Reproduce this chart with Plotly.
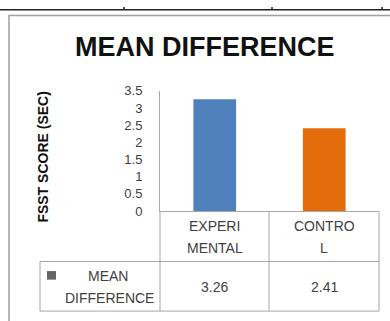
import plotly.graph_objects as go

# Chart data
categories_top = ["EXPERI", "CONTRO"]
categories_bottom = ["MENTAL", "L"]
series_name = ["MEAN", "DIFFERENCE"]
mean_difference = [3.26, 2.41]
bar_colors = ["#4F81BD", "#E46C0A"]
y_ticks = [0, 0.5, 1, 1.5, 2, 2.5, 3, 3.5]

W, H = 390, 321
FONT = "Liberation Sans"
TXT = "#404040"
GRID = "#A6A6A6"


def px(x):
    return x / W


def py(y):
    return 1 - y / H


fig = go.Figure()
fig.add_trace(go.Bar(
    x=[0, 1],
    y=mean_difference,
    width=0.39,
    marker=dict(color=bar_colors, line=dict(width=0)),
    showlegend=False,
    hoverinfo="skip",
))

# plot area: x 160..379, y 88 (3.5) .. 214 (0)
fig.update_layout(
    width=W, height=H,
    margin=dict(l=0, r=0, t=0, b=0),
    paper_bgcolor="white",
    plot_bgcolor="white",
    xaxis=dict(
        domain=[px(160), px(379)],
        range=[-0.5, 1.5],
        showticklabels=False, ticks="", showgrid=False, zeroline=False,
        showline=True, linecolor=GRID, linewidth=1,
    ),
    yaxis=dict(
        domain=[py(214), py(88)],
        range=[0, 3.5],
        tickvals=y_ticks,
        ticks="", showgrid=False, zeroline=False,
        showline=True, linecolor=GRID, linewidth=1,
        tickfont=dict(family=FONT, size=13, color=TXT),
        ticklabelstandoff=14,
    ),
)

shapes = []


def line(x0, y0, x1, y1, color=GRID, width=1):
    shapes.append(dict(type="line", xref="paper", yref="paper",
                       x0=px(x0), y0=py(y0), x1=px(x1), y1=py(y1),
                       line=dict(color=color, width=width)))


# page table rule above the chart
line(0, 3, 390, 3, color="#222222", width=1.5)
for vx in (124, 272, 382):
    line(vx, 0, vx, 3, color="#222222", width=1.5)

# chart frame
shapes.append(dict(type="rect", xref="paper", yref="paper",
                   x0=px(9), y0=py(9), x1=px(400), y1=py(340),
                   line=dict(color="#A0A0A0", width=1.5)))

# data table grid
line(40, 267, 379, 267)
line(40, 319, 379, 319)
line(160, 214, 160, 319)
line(269, 214, 269, 319)
line(379, 214, 379, 319)
line(40, 267, 40, 319)

# legend key
shapes.append(dict(type="rect", xref="paper", yref="paper",
                   x0=px(47), y0=py(286), x1=px(56), y1=py(277),
                   line=dict(width=0), fillcolor="#666666"))

fig.update_layout(shapes=shapes)

ann = []


def text(x, y, s, size=14, color=TXT, bold=False, angle=0, family=FONT):
    ann.append(dict(xref="paper", yref="paper", x=px(x), y=py(y),
                    text=f"<b>{s}</b>" if bold else s, showarrow=False,
                    xanchor="center", yanchor="middle", textangle=angle,
                    font=dict(family=family, size=size, color=color)))


text(205, 42, "MEAN DIFFERENCE", size=27, color="#111111", bold=True)
text(43, 158, "FSST SCORE (SEC)", size=14, color="#111111", bold=True, angle=-90)

col_centers = [214.5, 324]
for cx, top, bot, v in zip(col_centers, categories_top, categories_bottom, mean_difference):
    text(cx, 230, top)
    text(cx, 253, bot)
    text(cx, 294, f"{v:.2f}")

text(108, 282, series_name[0])
text(109, 305, series_name[1])

fig.update_layout(annotations=ann)

fig.write_html("out.html")
